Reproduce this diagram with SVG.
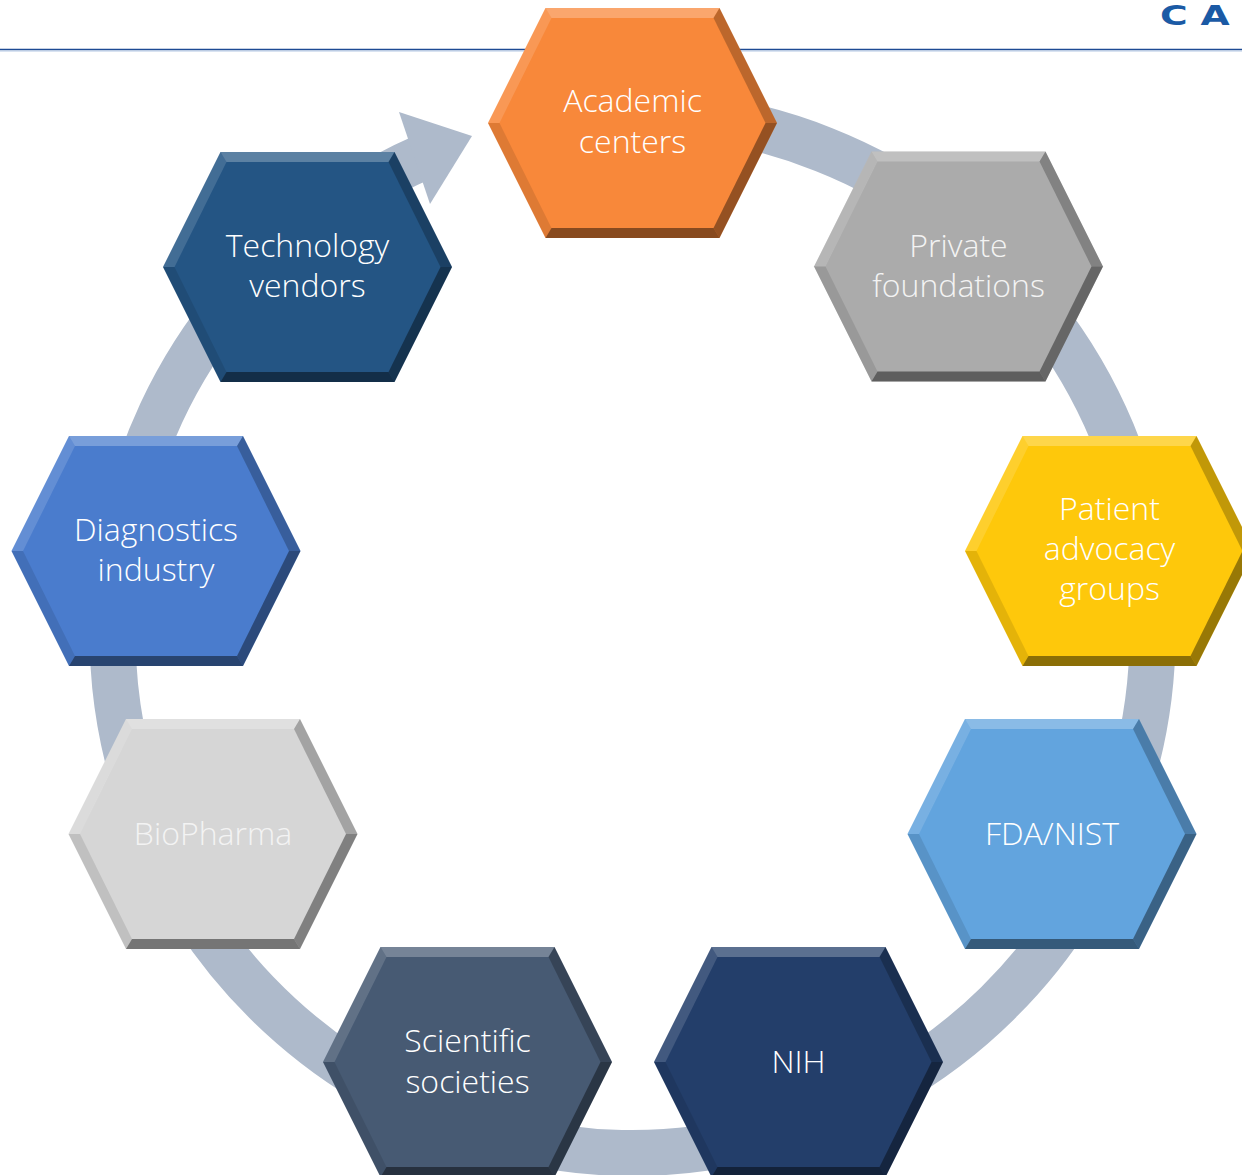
<svg xmlns="http://www.w3.org/2000/svg" xmlns:xlink="http://www.w3.org/1999/xlink" width="1242" height="1175" viewBox="0 0 1242 1175">
  <style>
    .lbl { font-family: "Open Sans", "Liberation Sans", sans-serif; font-weight: 300; font-size: 32px; fill: #ffffff; text-anchor: middle; }
    .lbl.soft { fill: #f3f3f3; }
    .ring { fill: none; stroke: #aebacb; stroke-width: 46; }
    .head { fill: #aebacb; }
    .f-top { fill: #ffffff; fill-opacity: 0.26; }
    .f-ul { fill: #ffffff; fill-opacity: 0.14; }
    .f-ll { fill: #000000; fill-opacity: 0.10; }
    .f-bot { fill: #000000; fill-opacity: 0.45; }
    .f-lr { fill: #000000; fill-opacity: 0.40; }
    .f-ur { fill: #000000; fill-opacity: 0.24; }
  </style>
  <defs>
    <!-- flat-topped hexagon, 289 x 230, centred on the origin -->
    <path id="hex" d="M -144.5 0 L -87 -115 L 87 -115 L 144.5 0 L 87 115 L -87 115 Z"/>
    <!-- bevel facets laid over the base colour -->
    <g id="bevel">
      <path class="f-top" d="M -87 -115 L 87 -115 L 81 -105 L -81 -105 Z"/>
      <path class="f-ul" d="M -144.5 0 L -87 -115 L -81 -105 L -133 0 Z"/>
      <path class="f-ll" d="M -144.5 0 L -133 0 L -81 105 L -87 115 Z"/>
      <path class="f-bot" d="M -87 115 L -81 105 L 81 105 L 87 115 Z"/>
      <path class="f-lr" d="M 87 115 L 81 105 L 133 0 L 144.5 0 Z"/>
      <path class="f-ur" d="M 144.5 0 L 133 0 L 81 -105 L 87 -115 Z"/>
    </g>
  </defs>

  <rect width="1242" height="1175" fill="#ffffff"/>

  <!-- page header -->
  <g id="header">
    <line x1="0" y1="49.5" x2="1242" y2="49.5" stroke="#1d4a94" stroke-width="1.4"/>
    <line x1="0" y1="51" x2="1242" y2="51" stroke="#b3c7e3" stroke-width="1"/>
    <text transform="translate(1160,25) scale(1.45,1)" x="0 19 28" y="0" font-family="DejaVu Sans, Liberation Sans, sans-serif" font-weight="bold" font-size="26" fill="#1b5aa5">C A</text>
  </g>

  <!-- circular flow arrow -->
  <g id="connectors">
    <path class="ring" d="M 587.2 115 A 520 520 0 1 1 425.2 156.1"/>
    <polygon class="head" points="399,112 472,136 430,204"/>
  </g>

  <g id="academic-centers" transform="translate(632.5,123)">
    <use href="#hex" fill="#f8883a"/>
    <use href="#bevel"/>
    <text class="lbl" y="-11">Academic</text>
    <text class="lbl" y="30">centers</text>
  </g>

  <g id="private-foundations" transform="translate(958.5,266.5)">
    <use href="#hex" fill="#ababab"/>
    <use href="#bevel"/>
    <text class="lbl soft" y="-10">Private</text>
    <text class="lbl soft" y="30">foundations</text>
  </g>

  <g id="patient-advocacy-groups" transform="translate(1109.5,551)">
    <use href="#hex" fill="#fec80b"/>
    <use href="#bevel"/>
    <text class="lbl" y="-31">Patient</text>
    <text class="lbl" y="9">advocacy</text>
    <text class="lbl" y="49">groups</text>
  </g>

  <g id="fda-nist" transform="translate(1052,834)">
    <use href="#hex" fill="#62a4de"/>
    <use href="#bevel"/>
    <text class="lbl" y="11">FDA/NIST</text>
  </g>

  <g id="nih" transform="translate(798.5,1062)">
    <use href="#hex" fill="#233e6a"/>
    <use href="#bevel"/>
    <text class="lbl" y="11">NIH</text>
  </g>

  <g id="scientific-societies" transform="translate(467.5,1062)">
    <use href="#hex" fill="#475a73"/>
    <use href="#bevel"/>
    <text class="lbl" y="-10">Scientific</text>
    <text class="lbl" y="31">societies</text>
  </g>

  <g id="biopharma" transform="translate(213,834)">
    <use href="#hex" fill="#d6d6d6"/>
    <use href="#bevel"/>
    <text class="lbl soft" y="11">BioPharma</text>
  </g>

  <g id="diagnostics-industry" transform="translate(156,551)">
    <use href="#hex" fill="#4a7ccd"/>
    <use href="#bevel"/>
    <text class="lbl" y="-10">Diagnostics</text>
    <text class="lbl" y="30">industry</text>
  </g>

  <g id="technology-vendors" transform="translate(307.5,267)">
    <use href="#hex" fill="#245584"/>
    <use href="#bevel"/>
    <text class="lbl" y="-10">Technology</text>
    <text class="lbl" y="30">vendors</text>
  </g>
</svg>
